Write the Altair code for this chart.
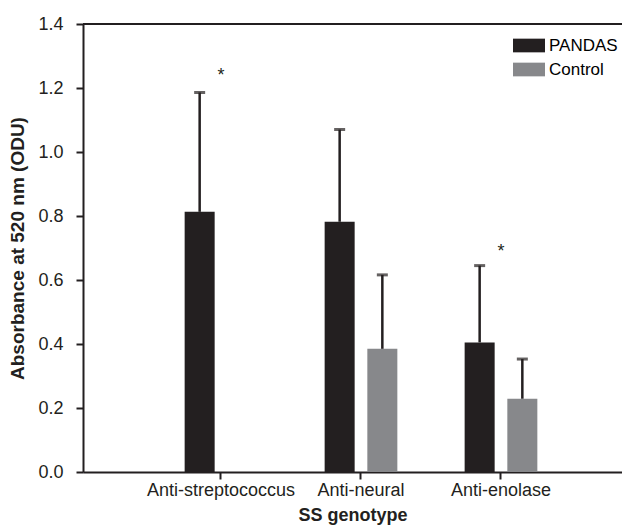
import altair as alt
import pandas as pd

# ---- data ----
categories = ["Anti-streptococcus", "Anti-neural", "Anti-enolase"]
groups = ["PANDAS", "Control"]
pandas_mean = [0.813, 0.782, 0.405]
pandas_sd = [0.373, 0.288, 0.240]
control_mean = [None, 0.385, 0.229]
control_sd = [None, 0.231, 0.124]
star_category = ["Anti-streptococcus", "Anti-enolase"]
star_y = [1.25, 0.70]
y_ticks = [0.0, 0.2, 0.4, 0.6, 0.8, 1.0, 1.2, 1.4]
colors = ["#231f20", "#87888b"]

rows = []
for c, m, s in zip(categories, pandas_mean, pandas_sd):
    rows.append({"Category": c, "Group": "PANDAS", "Mean": m, "SD": s})
for c, m, s in zip(categories, control_mean, control_sd):
    if m is not None:
        rows.append({"Category": c, "Group": "Control", "Mean": m, "SD": s})
df = pd.DataFrame(rows)
stars = pd.DataFrame({"Category": star_category, "Star": star_y})
top = pd.DataFrame({"Top": [y_ticks[-1]]})

FONT = "Liberation Sans"
INK = "#231f20"
YTITLE = "Absorbance at 520 nm (ODU)"

x_enc = alt.X(
    "Category:N",
    sort=categories,
    scale=alt.Scale(paddingInner=0.4807, paddingOuter=0.6654, align=0.5456, round=False),
    axis=alt.Axis(
        title="SS genotype", labelAngle=0, labelFontSize=18, labelFont=FONT, labelColor=INK,
        titleFontSize=18, titleFont=FONT, titleFontWeight="bold", titleColor=INK,
        tickSize=7, tickWidth=2, tickColor=INK, domainWidth=2, domainColor=INK,
        labelPadding=2, titlePadding=7,
    ),
)
xoff_enc = alt.XOffset(
    "Group:N", sort=groups,
    scale=alt.Scale(paddingInner=0.297, paddingOuter=0),
)
y_scale = alt.Scale(domain=[0, 1.4], nice=False, zero=True)
y_axis = alt.Axis(
    title=YTITLE, values=y_ticks, format=".1f", grid=False,
    labelFontSize=18, labelFont=FONT, labelColor=INK,
    titleFontSize=19, titleFont=FONT, titleFontWeight="bold", titleColor=INK,
    tickSize=7, tickWidth=2, tickColor=INK, domainWidth=2, domainColor=INK,
    labelPadding=13, titlePadding=10,
)

base = alt.Chart(df).encode(x=x_enc, xOffset=xoff_enc)

bars = base.mark_bar().encode(
    y=alt.Y("Mean:Q", scale=y_scale, axis=y_axis, title=YTITLE),
    color=alt.Color(
        "Group:N", sort=groups,
        scale=alt.Scale(domain=groups, range=colors),
        legend=alt.Legend(
            title=None, orient="none", legendX=430, legendY=5.5,
            symbolType="M-1,-0.428L1,-0.428L1,0.428L-1,0.428Z",
            symbolSize=1024, symbolStrokeWidth=0, symbolOpacity=1,
            labelFontSize=17, labelFont=FONT, labelColor="#000000",
            labelOffset=4, rowPadding=-1, padding=0,
        ),
    ),
)

err = base.transform_calculate(Upper="datum.Mean + datum.SD").mark_rule(
    color=INK, strokeWidth=2.5
).encode(
    y=alt.Y("Mean:Q", scale=y_scale, title=YTITLE),
    y2="Upper:Q",
)

caps = base.transform_calculate(Upper="datum.Mean + datum.SD").mark_tick(
    color=INK, orient="horizontal", size=11, thickness=3
).encode(
    y=alt.Y("Upper:Q", scale=y_scale, title=YTITLE),
)

star_text = alt.Chart(stars).mark_text(
    text="*", fontSize=18, font=FONT, color=INK, baseline="middle", dy=4
).encode(
    x=alt.X("Category:N", sort=categories),
    y=alt.Y("Star:Q", scale=y_scale, title=YTITLE),
)

top_rule = alt.Chart(top).mark_rule(color=INK, strokeWidth=2).encode(
    y=alt.Y("Top:Q", scale=y_scale, title=YTITLE)
)

chart = alt.layer(bars, err, caps, star_text, top_rule).properties(
    width=539,
    height=448,
    autosize=alt.AutoSizeParams(type="none"),
    padding={"left": 75, "top": 16, "right": 0, "bottom": 55},
).configure_view(stroke=None).configure(background="white")

chart.save("out.html", embed_options={"renderer": "svg", "actions": False})
